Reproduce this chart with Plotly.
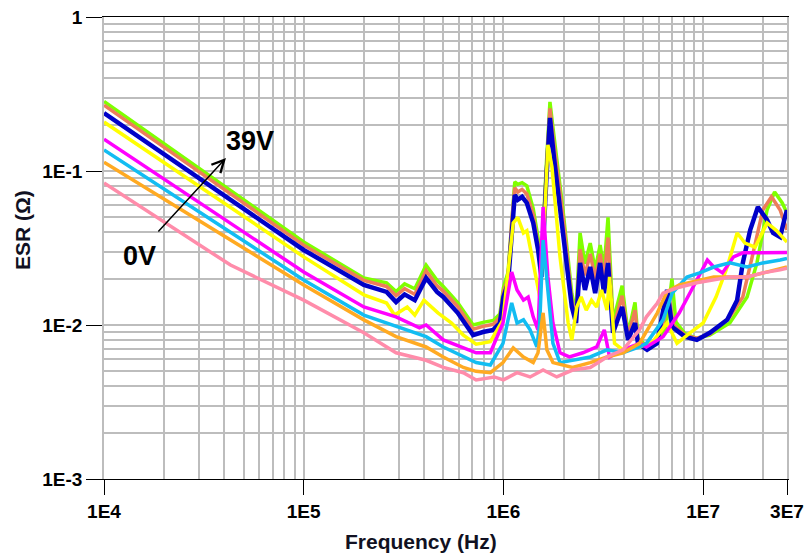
import math
import plotly.graph_objects as go

# ---------------- data ----------------
freq_green = [1e4, 1e5, 2e5, 2.6e5, 2.9e5, 3.2e5, 3.6e5, 4.1e5, 4.65e5, 5e5, 5.9e5, 6.6e5, 7.05e5, 7.9e5,
              8.9e5, 9.6e5, 1.0e6, 1.055e6, 1.1e6, 1.14e6, 1.18e6, 1.24e6, 1.31e6, 1.41e6, 1.49e6, 1.55e6,
              1.64e6, 1.71e6, 1.79e6, 1.99e6, 2.2e6, 2.31e6, 2.42e6, 2.56e6, 2.72e6, 2.88e6, 3.05e6, 3.19e6,
              3.34e6, 3.54e6, 3.93e6, 4.21e6, 4.56e6, 4.72e6, 5.24e6, 5.87e6, 6.5e6, 6.98e6, 7.3e6, 8.1e6,
              9.3e6, 1.08e7, 1.36e7, 1.66e7, 1.86e7, 2.09e7, 2.28e7, 2.49e7, 2.63e7]
esr_green = [0.283, 0.0346, 0.0202, 0.0188, 0.0165, 0.0185, 0.0172, 0.0245, 0.0195, 0.0178, 0.0140, 0.0112,
             0.0100, 0.0104, 0.0107, 0.0118, 0.0175, 0.022, 0.05, 0.085, 0.082, 0.084, 0.080, 0.057, 0.037,
             0.026, 0.11, 0.281, 0.17, 0.055, 0.016, 0.0122, 0.0396, 0.025, 0.034, 0.023, 0.033, 0.023, 0.050,
             0.0105, 0.018, 0.0088, 0.014, 0.0082, 0.0073, 0.0080, 0.0095, 0.020, 0.0105, 0.0088, 0.0082,
             0.0086, 0.0103, 0.0152, 0.0253, 0.0558, 0.073, 0.062, 0.0533]

freq_coral = [1e4, 1e5, 2e5, 2.6e5, 2.9e5, 3.2e5, 3.6e5, 4.1e5, 4.65e5, 5e5, 5.9e5, 6.6e5, 7.05e5, 7.9e5,
              8.9e5, 9.6e5, 1.0e6, 1.055e6, 1.1e6, 1.14e6, 1.18e6, 1.24e6, 1.31e6, 1.41e6, 1.49e6, 1.55e6,
              1.64e6, 1.71e6, 1.79e6, 1.99e6, 2.2e6, 2.31e6, 2.42e6, 2.56e6, 2.72e6, 2.88e6, 3.05e6, 3.19e6,
              3.34e6, 3.54e6, 3.93e6, 4.21e6, 4.56e6, 4.72e6, 5.24e6, 5.87e6, 6.4e6, 6.7e6, 7.1e6, 8.1e6,
              9.3e6, 1.08e7, 1.36e7, 1.58e7, 1.78e7, 1.99e7, 2.2e7, 2.43e7, 2.63e7]
esr_coral = [0.268, 0.033, 0.0195, 0.0178, 0.0155, 0.0172, 0.0158, 0.0225, 0.018, 0.0166, 0.0132, 0.0105,
             0.0094, 0.0098, 0.0101, 0.0112, 0.0165, 0.020, 0.047, 0.078, 0.073, 0.076, 0.071, 0.052, 0.034,
             0.024, 0.10, 0.255, 0.15, 0.050, 0.0145, 0.0113, 0.031, 0.021, 0.029, 0.020, 0.029, 0.020, 0.037,
             0.0095, 0.0155, 0.0085, 0.0125, 0.0080, 0.0071, 0.0078, 0.011, 0.016, 0.0100, 0.0086, 0.0082,
             0.0087, 0.0113, 0.0152, 0.0294, 0.0558, 0.068, 0.0558, 0.0414]

freq_blue = [1e4, 1e5, 2e5, 2.6e5, 2.9e5, 3.2e5, 3.6e5, 4.1e5, 4.65e5, 5e5, 5.9e5, 6.6e5, 7.05e5, 7.9e5,
             8.9e5, 9.6e5, 1.0e6, 1.055e6, 1.1e6, 1.14e6, 1.18e6, 1.24e6, 1.31e6, 1.41e6, 1.49e6, 1.55e6,
             1.64e6, 1.71e6, 1.79e6, 1.99e6, 2.2e6, 2.31e6, 2.42e6, 2.56e6, 2.72e6, 2.88e6, 3.05e6, 3.19e6,
             3.34e6, 3.54e6, 3.93e6, 4.21e6, 4.56e6, 4.72e6, 5.24e6, 5.87e6, 6.22e6, 6.6e6, 7.0e6, 8.1e6,
             9.3e6, 1.08e7, 1.32e7, 1.48e7, 1.58e7, 1.72e7, 1.88e7, 2.09e7, 2.24e7, 2.43e7, 2.57e7, 2.63e7]
esr_blue = [0.238, 0.0307, 0.0182, 0.0164, 0.0141, 0.0158, 0.0145, 0.0202, 0.0164, 0.0152, 0.0120, 0.0096,
            0.0086, 0.0090, 0.0093, 0.0103, 0.0152, 0.0187, 0.042, 0.070, 0.065, 0.068, 0.062, 0.046, 0.031,
            0.0205, 0.0875, 0.221, 0.123, 0.0414, 0.0131, 0.0103, 0.0253, 0.0169, 0.0238, 0.0161, 0.0253,
            0.0161, 0.0253, 0.0089, 0.0131, 0.0080, 0.0103, 0.0076, 0.0069, 0.0076, 0.011, 0.0169, 0.0097,
            0.0084, 0.0080, 0.0089, 0.0108, 0.0145, 0.0253, 0.0414, 0.0584, 0.0481, 0.0396, 0.0373, 0.0503,
            0.0558]

freq_yellow = [1e4, 1e5, 2e5, 2.6e5, 2.85e5, 3.3e5, 3.6e5, 4.0e5, 4.7e5, 5.5e5, 6.3e5, 7.3e5, 8.6e5, 9.95e5,
               1.12e6, 1.18e6, 1.26e6, 1.31e6, 1.41e6, 1.52e6, 1.58e6, 1.67e6, 1.75e6, 1.92e6, 2.11e6, 2.2e6,
               2.33e6, 2.45e6, 2.6e6, 2.76e6, 2.93e6, 3.1e6, 3.3e6, 3.4e6, 3.6e6, 3.97e6, 4.8e6, 5.6e6, 6.6e6,
               7.4e6, 8.6e6, 1.0e7, 1.16e7, 1.32e7, 1.48e7, 1.62e7, 1.82e7, 2.09e7, 2.33e7, 2.63e7]
esr_yellow = [0.208, 0.0277, 0.0157, 0.0139, 0.0116, 0.0131, 0.0116, 0.0145, 0.0120, 0.0103, 0.0086, 0.0075,
              0.0078, 0.0108, 0.046, 0.050, 0.0396, 0.041, 0.0253, 0.0152, 0.030, 0.148, 0.106, 0.0277, 0.0103,
              0.0080, 0.0131, 0.0152, 0.0125, 0.0145, 0.0131, 0.0169, 0.0125, 0.0205, 0.0076, 0.0069, 0.0072,
              0.0078, 0.0103, 0.0076, 0.0089, 0.0103, 0.0152, 0.0238, 0.0396, 0.034, 0.032, 0.046, 0.041, 0.0346]

freq_magenta = [1e4, 1e5, 2e5, 2.9e5, 3.8e5, 4.1e5, 5e5, 6.3e5, 7.3e5, 8.6e5, 9.95e5, 1.1e6, 1.17e6, 1.26e6,
                1.33e6, 1.41e6, 1.49e6, 1.58e6, 1.67e6, 1.77e6, 1.92e6, 2.14e6, 2.5e6, 2.93e6, 3.2e6, 3.4e6,
                3.97e6, 4.8e6, 5.2e6, 6.3e6, 7.6e6, 9.3e6, 1.05e7, 1.13e7, 1.25e7, 1.42e7, 1.58e7, 1.86e7,
                2.16e7, 2.63e7]
esr_magenta = [0.161, 0.0221, 0.0131, 0.0113, 0.0096, 0.0100, 0.0080, 0.0071, 0.0066, 0.0066, 0.0103, 0.0221,
               0.0169, 0.0145, 0.0152, 0.0113, 0.0093, 0.0584, 0.0205, 0.0103, 0.0066, 0.0062, 0.0066, 0.0072,
               0.0093, 0.0062, 0.0069, 0.0076, 0.0072, 0.0084, 0.0120, 0.0196, 0.0264, 0.0238, 0.0218, 0.0277,
               0.0294, 0.0294, 0.0294, 0.0296]

freq_cyan = [1e4, 1e5, 2e5, 2.9e5, 4.1e5, 5e5, 6.3e5, 7.3e5, 8.6e5, 9.95e5, 1.1e6, 1.17e6, 1.26e6, 1.36e6,
             1.47e6, 1.52e6, 1.58e6, 1.67e6, 1.77e6, 1.92e6, 2.22e6, 2.72e6, 3.3e6, 3.97e6, 4.8e6, 5.2e6,
             6.3e6, 7.0e6, 8.3e6, 9.6e6, 1.13e7, 1.36e7, 1.66e7, 1.99e7, 2.43e7, 2.63e7]
esr_cyan = [0.137, 0.0196, 0.0116, 0.0098, 0.0084, 0.0072, 0.0062, 0.0057, 0.0055, 0.0076, 0.0139, 0.0103,
            0.0108, 0.0093, 0.0072, 0.0103, 0.0356, 0.0169, 0.0076, 0.0057, 0.0059, 0.0062, 0.0069, 0.0066,
            0.0072, 0.0076, 0.0108, 0.0161, 0.0205, 0.0218, 0.0238, 0.0253, 0.0238, 0.0253, 0.0264, 0.027]

freq_orange = [1e4, 1e5, 2e5, 2.9e5, 4.1e5, 5e5, 6.3e5, 7.3e5, 8.6e5, 9.95e5, 1.12e6, 1.26e6, 1.41e6, 1.49e6,
               1.58e6, 1.65e6, 1.77e6, 2.22e6, 2.72e6, 3.3e6, 3.97e6, 4.8e6, 5.9e6, 6.6e6, 7.6e6, 1.13e7,
               1.66e7, 2.43e7, 2.63e7]
esr_orange = [0.114, 0.0182, 0.0108, 0.0084, 0.0072, 0.0062, 0.0053, 0.0050, 0.0049, 0.0057, 0.0071, 0.0062,
              0.0057, 0.0066, 0.0120, 0.0069, 0.0057, 0.0053, 0.0057, 0.0062, 0.0066, 0.0076, 0.0120, 0.0165,
              0.0182, 0.0205, 0.0205, 0.0234, 0.0238]

freq_pink = [1e4, 4.3e4, 1e5, 2e5, 2.9e5, 4.1e5, 5e5, 6.3e5, 7.3e5, 9e5, 1.0e6, 1.17e6, 1.36e6, 1.58e6,
             1.85e6, 2.22e6, 2.72e6, 3.3e6, 3.97e6, 4.8e6, 5.2e6, 5.9e6, 6.3e6, 7.6e6, 9.3e6, 1.13e7, 1.36e7,
             1.66e7, 1.99e7, 2.43e7, 2.63e7]
esr_pink = [0.0836, 0.0245, 0.0145, 0.0089, 0.0066, 0.0059, 0.0053, 0.0049, 0.0044, 0.0046, 0.0044, 0.0049,
            0.0046, 0.0051, 0.0046, 0.0051, 0.0053, 0.0062, 0.0069, 0.0093, 0.0113, 0.0139, 0.0161, 0.0176,
            0.0188, 0.0196, 0.0205, 0.0205, 0.0218, 0.0228, 0.0234]

x_tick_vals = [1e4, 1e5, 1e6, 1e7, 2.63e7]
x_tick_text = ["1E4", "1E5", "1E6", "1E7", "3E7"]
y_tick_vals = [1e-3, 1e-2, 1e-1, 1]
y_tick_text = ["1E-3", "1E-2", "1E-1", "1"]

# ---------------- figure ----------------
series = [
    ("39V", freq_green, esr_green, "#7FFF00", 3.5),
    ("coral", freq_coral, esr_coral, "#EE7C5A", 3.5),
    ("blue", freq_blue, esr_blue, "#0000C8", 4.5),
    ("yellow", freq_yellow, esr_yellow, "#FFFF00", 3.5),
    ("magenta", freq_magenta, esr_magenta, "#FF00FF", 3.5),
    ("cyan", freq_cyan, esr_cyan, "#12BDF2", 3.5),
    ("orange", freq_orange, esr_orange, "#FFAA22", 3.5),
    ("0V", freq_pink, esr_pink, "#FF8CAA", 3.5),
]

fig = go.Figure()
for name, f, v, col, w in series:
    fig.add_trace(go.Scatter(x=f, y=v, mode="lines", name=name,
                             line=dict(color=col, width=w), showlegend=False))

GRID = "#bdbdbd"
x_minor = [m * 10 ** e for e in range(4, 8) for m in range(2, 10) if m * 10 ** e < 2.63e7]
y_minor = [m * 10.0 ** e for e in range(-3, 0) for m in range(2, 10)]

tickfont = dict(family="Liberation Sans, Arial", size=19, color="#000", weight="bold")

fig.update_layout(
    width=805, height=559,
    margin=dict(l=104, r=18, t=17, b=80),
    paper_bgcolor="white", plot_bgcolor="white",
    xaxis=dict(type="log", range=[4, math.log10(2.63e7)], automargin=False,
               tickmode="array", tickvals=x_tick_vals, ticktext=x_tick_text,
               ticks="outside", ticklen=15, tickcolor="#000", tickwidth=1,
               showgrid=True, gridcolor=GRID, gridwidth=1.6,
               showline=True, linecolor="#000", linewidth=1, mirror=True,
               minor=dict(tickvals=x_minor, ticks="", showgrid=True, gridcolor=GRID, gridwidth=1.6),
               tickfont=tickfont, zeroline=False),
    yaxis=dict(type="log", range=[-3, 0], automargin=False,
               tickmode="array", tickvals=y_tick_vals, ticktext=y_tick_text,
               ticks="outside", ticklen=16, tickcolor="#000", tickwidth=1,
               showgrid=True, gridcolor=GRID, gridwidth=1.6,
               showline=True, linecolor=GRID, linewidth=1.6, mirror=True,
               minor=dict(tickvals=y_minor, ticks="", showgrid=True, gridcolor=GRID, gridwidth=1.6),
               tickfont=tickfont, zeroline=False),
)

title_font = dict(family="Liberation Sans, Arial", size=21, color="#111122", weight="bold")
label_font = dict(family="Liberation Sans, Arial", size=27, color="#000", weight="bold")

fig.add_annotation(text="ESR (Ω)", xref="paper", yref="paper", x=-0.1186, y=0.539,
                   textangle=-90, showarrow=False, font=title_font, xanchor="center", yanchor="middle")
fig.add_annotation(text="Frequency (Hz)", xref="paper", yref="paper", x=0.464, y=-0.136,
                   showarrow=False, font=title_font, xanchor="center", yanchor="middle")

fig.add_annotation(text="39V", x=math.log10(5.38e4), y=math.log10(0.157), showarrow=False,
                   font=label_font, xanchor="center", yanchor="middle")
fig.add_annotation(text="0V", x=math.log10(1.50e4), y=math.log10(0.0281), showarrow=False,
                   font=label_font, xanchor="center", yanchor="middle")
fig.add_annotation(text="", x=math.log10(4.08e4), y=math.log10(0.1215), ax=-69, ay=75,
                   showarrow=True, arrowhead=5, arrowsize=1.6, arrowwidth=1.5, arrowcolor="#000",
                   standoff=0, startstandoff=0)

fig.write_html("out.html", config={"displayModeBar": False},
               post_script="document.body.style.margin='0';document.body.style.padding='0';")
